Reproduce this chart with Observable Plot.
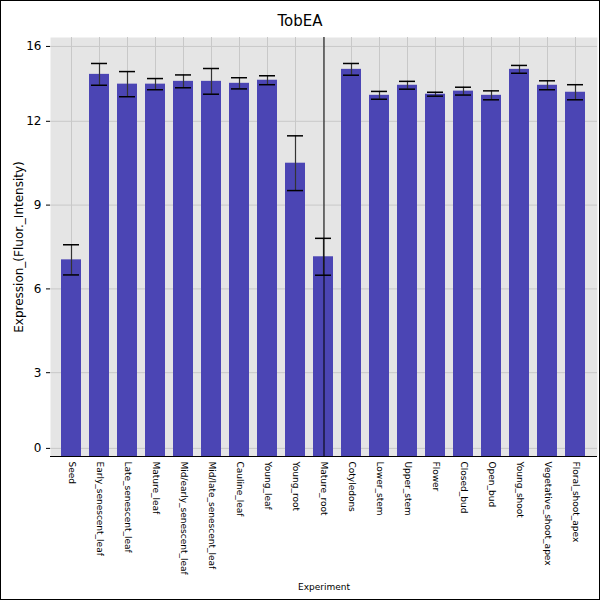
<!DOCTYPE html>
<html><head><meta charset="utf-8">
<script src="https://cdn.jsdelivr.net/npm/d3@7"></script>
<script src="https://cdn.jsdelivr.net/npm/@observablehq/plot@0.6"></script>
<style>
body{margin:0;font-family:"DejaVu Sans",sans-serif;}
#box{width:598px;height:598px;border:1px solid #000;position:relative;background:#fff;}
#title{height:36px;line-height:40px;text-align:center;font-size:15px;}
</style></head><body>
<div id="box"><div id="title">TobEA</div><div id="chart"></div></div>
<script>
const categories=["Seed","Early_senescent_leaf","Late_senescent_leaf","Mature_leaf","Mid/early_senescent_leaf","Mid/late_senescent_leaf","Cauline_leaf","Young_leaf","Young_root","Mature_root","Cotyledons","Lower_stem","Upper_stem","Flower","Closed_bud","Open_bud","Young_shoot","Vegetative_shoot_apex","Floral_shoot_apex"];
const values=[6.75,13.39,13.04,13.04,13.14,13.14,13.07,13.18,10.21,6.86,13.57,12.64,13.0,12.68,12.79,12.64,13.57,13.0,12.75];
const errors=[0.54,0.39,0.45,0.2,0.23,0.46,0.2,0.16,0.98,0.66,0.21,0.14,0.14,0.07,0.14,0.16,0.14,0.16,0.27];
const tickPositions=[0,2.71,5.71,8.71,11.71,14.39];
const tickLabels=["0","3","6","9","12","16"];
const base=-0.29;
const data=categories.map((c,i)=>({c,v:values[i],lo:values[i]-errors[i],hi:values[i]+errors[i]}));
const chart=Plot.plot({
  width:598,height:562,marginLeft:49,marginRight:2,marginTop:0,marginBottom:143,
  style:{fontFamily:"DejaVu Sans",fontSize:"12px",background:"transparent"},
  x:{domain:categories,padding:0.27,label:null},
  y:{domain:[base,14.71],label:null},
  marks:[
    Plot.frame({fill:"#e5e5e5"}),
    Plot.gridY(tickPositions,{stroke:"#c8c8c8",strokeOpacity:1}),
    Plot.gridX(categories,{stroke:"#c8c8c8",strokeOpacity:1}),
    Plot.barY(data,{x:"c",y1:base,y2:"v",fill:"#4b45b4"}),
    Plot.ruleX(data,{x:"c",y1:"lo",y2:"hi",stroke:"#333",strokeWidth:1.2}),
    Plot.tickY(data,{x:"c",y:"lo",stroke:"#000",strokeWidth:1.5,insetLeft:2,insetRight:2}),
    Plot.tickY(data,{x:"c",y:"hi",stroke:"#000",strokeWidth:1.5,insetLeft:2,insetRight:2}),
    Plot.axisY(tickPositions,{tickFormat:(d,i)=>tickLabels[i],tickSize:4,fontSize:12,label:"Expression_(Fluor._Intensity)",labelAnchor:"center",labelArrow:"none",labelOffset:36}),
    Plot.axisX({tickRotate:90,tickSize:0,fontSize:9,textAnchor:"start",dy:-4,label:"Experiment",labelAnchor:"center",labelArrow:"none",labelOffset:133}),
    Plot.ruleY([base],{stroke:"#000"}),
    Plot.ruleX([categories[0]],{x:null,frameAnchor:"left",stroke:"#000"})
  ]
});
document.getElementById("chart").append(chart);
</script></body></html>
